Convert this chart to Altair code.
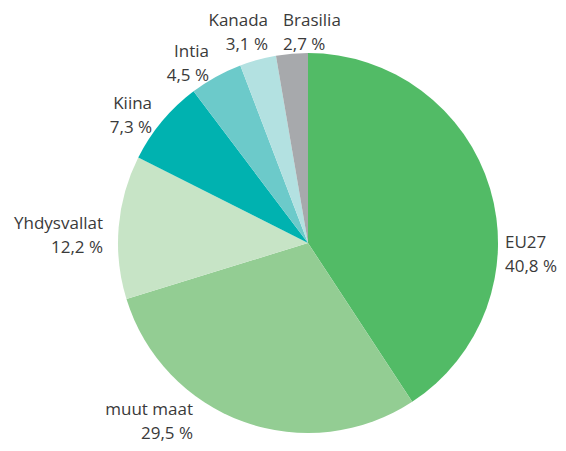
import altair as alt
import pandas as pd

names = ["EU27", "muut maat", "Yhdysvallat", "Kiina", "Intia", "Kanada", "Brasilia"]
values = [40.8, 29.5, 12.2, 7.3, 4.5, 3.1, 2.7]
pct_text = ["40,8 %", "29,5 %", "12,2 %", "7,3 %", "4,5 %", "3,1 %", "2,7 %"]
colors = ["#52bb66", "#93cd93", "#c7e4c6", "#00b2b0", "#6ccaca", "#b3e1e1", "#a7a9ac"]

df = pd.DataFrame({
    "name": names,
    "value": values,
    "label": [n + "\n" + p for n, p in zip(names, pct_text)],
    "ord": list(range(len(names))),
})

CX, CY = 300, 235

base = alt.Chart(df)

pie = base.mark_arc(outerRadius=190).encode(
    theta=alt.Theta("value:Q", stack=True),
    order=alt.Order("ord:Q"),
    color=alt.Color("name:N", scale=alt.Scale(domain=names, range=colors), legend=None),
    x=alt.value(CX),
    y=alt.value(CY),
)

# label placement offsets (align, dx, dy) relative to radial anchor at mid-angle
placement = {
    "EU27": ("left", 0.6, 58.7),
    "muut maat": ("right", -45.6, -25.5),
    "Yhdysvallat": ("right", -0.7, -2.0),
    "Kiina": ("right", 1.5, -7.7),
    "Intia": ("right", 0.3, -11.6),
    "Kanada": ("right", 14.1, -24.3),
    "Brasilia": ("left", -7.6, -17.7),
}

lab_base = base.transform_window(
    cum="sum(value)", sort=[alt.SortField("ord")], frame=[None, 0]
).transform_joinaggregate(
    total="sum(value)"
).transform_calculate(
    mid="2*PI*(datum.cum - datum.value/2)/datum.total"
)

layers = [pie]
for n in names:
    al, dx, dy = placement[n]
    layers.append(
        lab_base.transform_filter(alt.datum.name == n).mark_text(
            radius=205, align=al, baseline="middle", dx=dx, dy=dy,
            font="Open Sans", fontSize=17, lineHeight=24, lineBreak="\n",
            color="#3a3a3a",
        ).encode(
            theta=alt.Theta("mid:Q", scale=None, stack=None),
            text="label:N",
            x=alt.value(CX),
            y=alt.value(CY),
        )
    )

chart = alt.layer(*layers).resolve_scale(theta="independent").properties(
    width=550, height=435, padding=0,
    autosize=alt.AutoSizeParams(type="none"),
).configure_view(stroke=None)

chart.save("out.html", embed_options={"renderer": "svg", "actions": False})
